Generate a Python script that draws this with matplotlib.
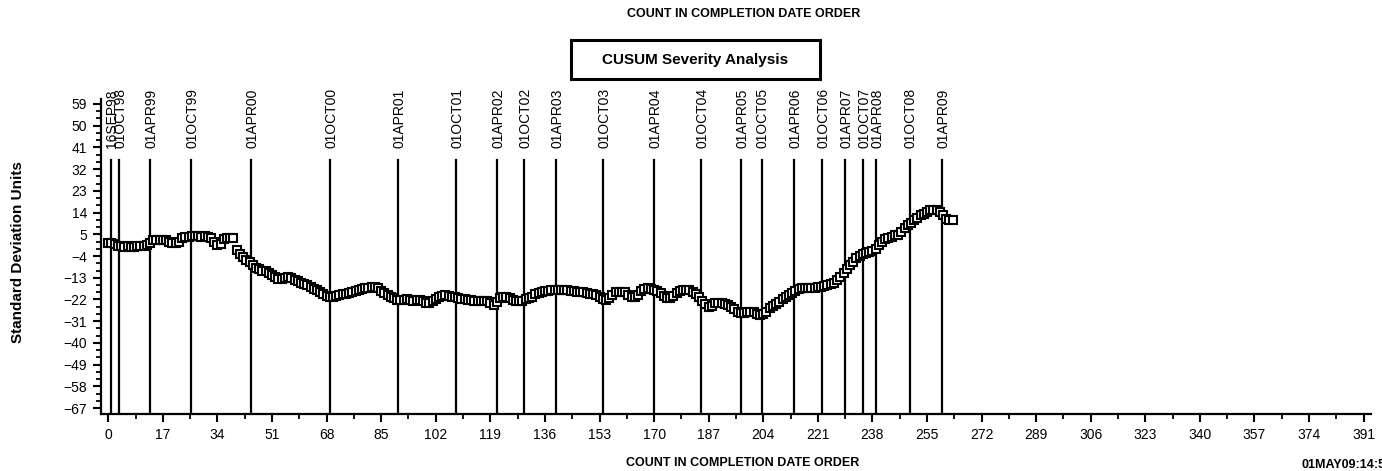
import matplotlib
matplotlib.use("Agg")
import matplotlib.pyplot as plt
from matplotlib.ticker import MultipleLocator, FixedLocator
from matplotlib.patches import Rectangle

# ---- data ----
cusum = [
    1.5, 1.5, 1.0, 0.3, 0.0, -0.2, 0.0, -0.3, -0.1, 0.0,
    0.2, 0.0, 0.5, 1.5, 2.5, 2.8, 2.7, 2.6, 2.8, 1.8,
    1.3, 1.2, 1.6, 3.6, 3.8, 4.0, 4.1, 4.2, 4.4, 4.0,
    4.2, 3.9, 3.5, 1.8, 0.6, 0.8, 3.2, 3.4, 3.3, 3.4,
    -1.5, -3.0, -4.5, -5.5, -6.5, -7.8, -8.8, -9.5, -10.0, -10.4,
    -11.0, -11.8, -12.8, -13.4, -13.6, -13.2, -12.8, -12.9, -13.8, -14.5,
    -15.0, -15.5, -16.2, -17.0, -17.5, -18.2, -18.7, -19.8, -20.6, -20.8,
    -20.8, -20.5, -20.2, -19.9, -19.6, -19.4, -19.0, -18.6, -18.2, -17.8,
    -17.4, -17.1, -16.9, -16.9, -17.3, -18.5, -19.4, -20.0, -20.8, -21.5,
    -22.2, -22.4, -22.2, -22.0, -22.3, -22.5, -22.2, -22.2, -22.5, -23.3,
    -23.5, -22.8, -21.8, -21.0, -20.4, -20.1, -20.4, -20.8, -20.8, -21.2,
    -21.6, -22.0, -22.2, -22.4, -22.6, -22.6, -22.7, -22.6, -22.8, -23.5,
    -24.2, -23.0, -21.5, -20.8, -20.9, -21.5, -22.2, -22.8, -22.8, -22.5,
    -21.8, -21.5, -20.8, -19.8, -19.2, -18.7, -18.5, -18.3, -18.2, -18.0,
    -18.0, -17.9, -18.0, -18.1, -18.3, -18.5, -18.7, -18.8, -19.0, -19.3,
    -19.6, -19.8, -20.1, -21.0, -22.0, -22.2, -21.5, -20.0, -19.0, -18.7,
    -18.7, -19.0, -20.0, -20.8, -20.8, -20.0, -18.5, -17.5, -17.3, -17.6,
    -18.0, -18.5, -19.5, -20.5, -21.5, -21.5, -20.5, -19.5, -18.3, -18.0,
    -18.0, -18.2, -18.8, -19.8, -20.8, -22.5, -24.0, -24.9, -24.5, -23.5,
    -23.5, -23.6, -24.0, -24.2, -25.0, -26.0, -27.0, -27.7, -27.5, -27.0,
    -27.0, -27.2, -27.8, -28.4, -28.0, -27.0, -25.5, -24.5, -23.8, -23.0,
    -21.8, -20.8, -20.1, -19.2, -18.3, -17.6, -17.3, -17.2, -17.3, -17.3,
    -17.2, -17.0, -17.0, -16.5, -16.0, -15.5, -15.2, -14.0, -12.5, -11.1,
    -9.5, -7.8, -6.5, -5.0, -3.8, -3.3, -2.8, -2.2, -1.8, -1.0,
    0.5, 2.0, 3.0, 3.4, 4.0, 4.5, 4.8, 6.0, 7.5, 8.9,
    9.8, 10.8, 11.8, 12.8, 13.5, 14.3, 15.0, 15.2, 15.0, 14.4,
    13.0, 11.5, 11.0, 10.8,
]
count = list(range(len(cusum)))

date_pos = [0.9, 3.3, 13.1, 25.9, 44.6, 69.2, 90.3, 108.3, 121.1, 129.5,
            139.5, 154.2, 170.1, 184.7, 197.0, 203.5, 213.6, 222.3, 229.4,
            235.1, 239.2, 249.6, 259.6]
date_labels = ['16SEP98', '01OCT98', '01APR99', '01OCT99', '01APR00', '01OCT00',
               '01APR01', '01OCT01', '01APR02', '01OCT02', '01APR03', '01OCT03',
               '01APR04', '01OCT04', '01APR05', '01OCT05', '01APR06', '01OCT06',
               '01APR07', '01OCT07', '01APR08', '01OCT08', '01APR09']

x_ticks = list(range(0, 392, 17))
y_ticks = list(range(-67, 60, 9))

title_text = 'COUNT IN COMPLETION DATE ORDER'
box_text = 'CUSUM Severity Analysis'
ylabel_text = 'Standard Deviation Units'
xlabel_text = 'COUNT IN COMPLETION DATE ORDER'
stamp_text = '01MAY09:14:58'

# ---- figure ----
W, H = 1382, 471
fig = plt.figure(figsize=(W / 100, H / 100), dpi=100)
plt.rcParams['font.family'] = ['Liberation Sans', 'DejaVu Sans']
narrow = ['Liberation Sans Narrow', 'Liberation Sans', 'DejaVu Sans']

ax = fig.add_axes([101 / W, 1 - 414 / H, (1371 - 101) / W, (414 - 99) / H])
ax.set_xlim(-2.27, 393.3)
ax.set_ylim(-69.4, 61.0)

ax.plot(count, cusum, linestyle='none', marker='s', markersize=5.6,
        markerfacecolor='white', markeredgecolor='black', markeredgewidth=1.5,
        zorder=3)

line_top = (414 - 160) / (414 - 99)
label_y = (414 - 148) / (414 - 99)
for p, lab in zip(date_pos, date_labels):
    ax.axvline(p, ymin=0, ymax=line_top, color='black', lw=1.6, zorder=2)
    ax.text(p + 0.4, label_y, lab, transform=ax.get_xaxis_transform(), rotation=90,
            ha='center', va='bottom', fontsize=10, color='black')

for s in ['top', 'right']:
    ax.spines[s].set_visible(False)
for s in ['left', 'bottom']:
    ax.spines[s].set_linewidth(1.6)

ax.xaxis.set_major_locator(FixedLocator(x_ticks))
ax.xaxis.set_minor_locator(MultipleLocator(8.5))
ax.yaxis.set_major_locator(FixedLocator(y_ticks))
ax.yaxis.set_minor_locator(MultipleLocator(3, offset=-67 % 3))
ax.tick_params(axis='both', which='major', length=6, width=1.5, labelsize=10,
               direction='out')
ax.tick_params(axis='both', which='minor', length=3.5, width=1.3, direction='out')
ax.tick_params(axis='y', which='major', pad=4)
ax.tick_params(axis='x', which='major', pad=4)

# titles and labels
fig.text(744 / W, 1 - 14 / H, title_text, ha='center', va='center',
         fontsize=9, fontweight='bold', family=narrow)
fig.add_artist(Rectangle((571 / W, 1 - 79 / H), (820 - 571) / W, (79 - 40) / H,
                         transform=fig.transFigure, fill=False, lw=2.2,
                         edgecolor='black'))
fig.text(695 / W, 1 - 60 / H, box_text, ha='center', va='center',
         fontsize=11, fontweight='bold', family=narrow)
fig.text(18 / W, 1 - 252 / H, ylabel_text, ha='center', va='center',
         rotation=90, fontsize=11, fontweight='bold', family=narrow)
fig.text(743 / W, 1 - 463 / H, xlabel_text, ha='center', va='center',
         fontsize=9, fontweight='bold', family=narrow)
fig.text(1302 / W, 1 - 465 / H, stamp_text, ha='left', va='center',
         fontsize=9, fontweight='bold', family=narrow)

fig.savefig('out.png', dpi=100)
